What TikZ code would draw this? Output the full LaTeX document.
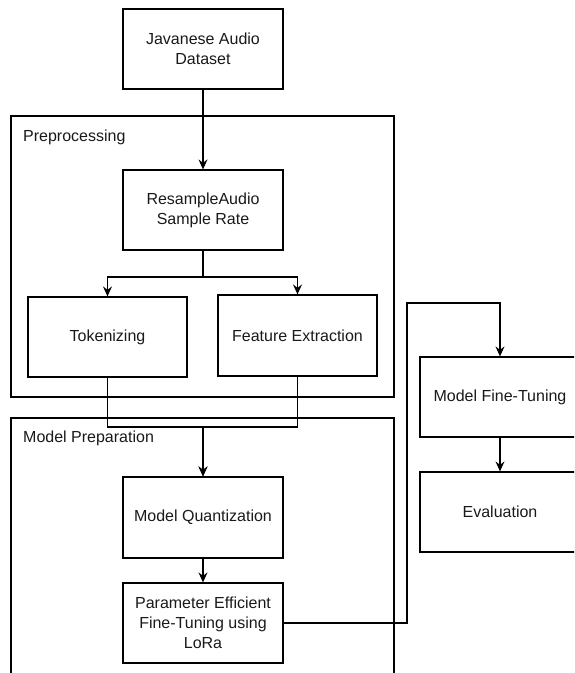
\documentclass[tikz,border=0pt]{standalone}
\usepackage{fontspec}
\setmainfont{Liberation Sans}
\usetikzlibrary{arrows.meta}
\begin{document}
\begin{tikzpicture}[x=1pt,y=-1pt,
  every node/.style={font=\fontsize{16}{20}\selectfont, text=black!90},
  stepbox/.style={draw, line width=1.2pt, minimum width=160pt, minimum height=80pt, align=center, inner sep=0pt},
  groupbox/.style={draw, line width=1.2pt, inner sep=0pt},
  grouplabel/.style={anchor=west, inner sep=0pt},
  arr/.style={line width=1.2pt, -{Stealth[length=10pt,width=9pt,inset=3.5pt]}},
  conn/.style={line width=1.2pt}]
\useasboundingbox (0,0) rectangle (574,673);
\clip (0,0) rectangle (574,673);
% containers
\node[groupbox, minimum width=383pt, minimum height=281pt] (pre) at (202.5,256.5) {};
\node[grouplabel] (prelabel) at (23,137) {Preprocessing};
\node[groupbox, minimum width=383pt, minimum height=320pt] (prep) at (202.5,578) {};
\node[grouplabel] (preplabel) at (23,438) {Model Preparation};
% steps
\node[stepbox, fill=white] (jav) at (203,49) {Javanese Audio\\Dataset};
\node[stepbox] (res) at (203,210) {ResampleAudio\\Sample Rate};
\node[stepbox, minimum width=159pt] (tok) at (107.5,337) {Tokenizing};
\node[stepbox, minimum width=159pt, minimum height=81pt] (feat) at (297.5,335.5) {Feature Extraction};
\node[stepbox, minimum height=81pt] (quant) at (203,517.5) {Model Quantization};
\node[stepbox] (peft) at (203,623) {Parameter Efficient\\Fine-Tuning using\\LoRa};
\node[stepbox] (mft) at (500,397) {Model Fine-Tuning};
\node[stepbox] (eval) at (500,512) {Evaluation};
% helper points
\coordinate (split) at (203,277);
\coordinate (merge) at (203,427);
\coordinate (turn) at (407,303);
% connectors
\draw[arr] (jav.south) -- (res.north);
\draw[conn] (res.south) -- (split);
\draw[arr] (split) -| (tok.north);
\draw[arr] (split) -| (feat.north);
\draw[arr] (tok.south) |- (merge) -- (quant.north);
\draw[arr] (feat.south) |- (merge) -- (quant.north);
\draw[arr] (quant.south) -- (peft.north);
\draw[arr] (peft.east) -| (turn) -| (mft.north);
\draw[arr] (mft.south) -- (eval.north);
\end{tikzpicture}
\end{document}
